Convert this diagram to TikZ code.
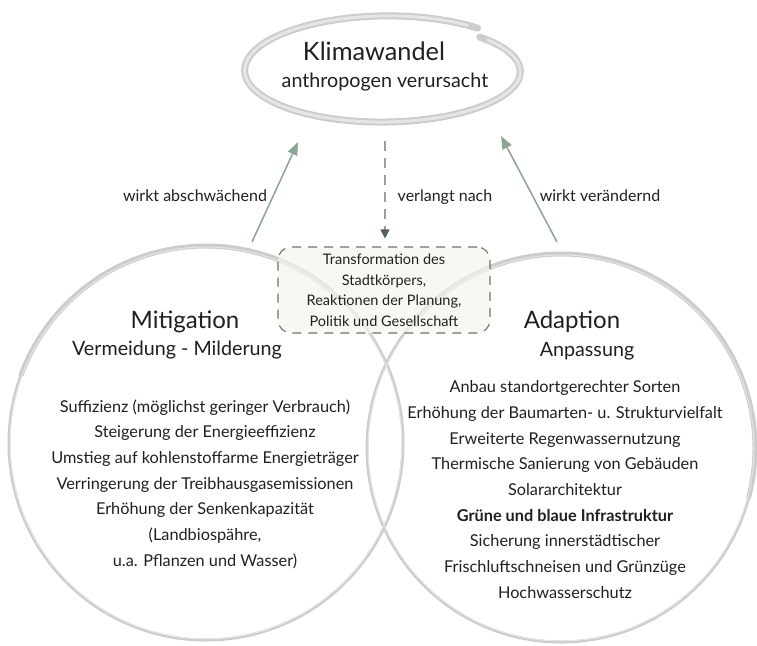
\documentclass[tikz,border=0pt]{standalone}
\usepackage{fontspec}
\setmainfont{Lato}
\usetikzlibrary{arrows.meta,shapes.geometric}
\definecolor{arrgreen}{RGB}{141,164,146}
\definecolor{darkgreen}{RGB}{78,98,82}
\definecolor{boxfill}{RGB}{243,245,236}
\definecolor{boxline}{RGB}{110,114,110}
\definecolor{txt}{RGB}{32,32,32}
\definecolor{ringout}{RGB}{203,205,202}
\definecolor{ringin}{RGB}{228,230,227}
\tikzset{
  ringnode/.style={circle, draw=ringout, line width=3pt, inner sep=0pt},
  ringhigh/.style={draw=ringin, line width=1pt},
  ringthick/.style={draw=ringout, line width=5pt},
  title/.style={font=\fontsize{24}{28}\selectfont, text=txt, anchor=base},
  subtitle/.style={font=\fontsize{19.7}{23}\selectfont, text=txt, anchor=base},
  items/.style={font=\fontsize{16.3}{25.7}\selectfont, text=txt, align=center},
  lbl/.style={font=\fontsize{16}{19}\selectfont, text=txt},
  boxnode/.style={draw=boxline, line width=1.1pt, dash pattern=on 9pt off 7pt, rounded corners=13pt,
     fill=boxfill, fill opacity=0.65, text opacity=1, minimum width=212pt, minimum height=86pt,
     font=\fontsize{14.5}{20.5}\selectfont, text=txt, align=center},
  arr/.style={draw=arrgreen, line width=1.5pt, -{Triangle[length=13pt,width=10pt]}},
  darr/.style={draw=gray!75, line width=1.1pt, dash pattern=on 10pt off 7pt,
     -{Triangle[length=9pt,width=9pt,color=darkgreen,fill=darkgreen]}}
}
\begin{document}
\begin{tikzpicture}[x=1pt,y=-1pt]
\useasboundingbox (0,0) rectangle (757,645);
\fill[white] (0,0) rectangle (757,645);

% circles
\node[ringnode, minimum size=394pt] (mit) at (206,443) {};
\node[ringnode, minimum size=388pt] (ada) at (561,448) {};
\draw[ringthick] (mit.center) ++(160:197pt) arc[start angle=160, end angle=50, radius=197pt];
\draw[ringthick] (ada.center) ++(140:194pt) arc[start angle=140, end angle=-15, radius=194pt];
\draw[ringhigh] (mit.center) circle[radius=196pt];
\draw[ringhigh] (ada.center) circle[radius=193pt];

% top loop
\node[ellipse, minimum width=282pt, minimum height=108pt, inner sep=0pt] (klima) at (385,71) {};
\draw[draw=ringout, line width=7pt, line cap=round]
  plot[domain=0:355, samples=140, smooth, variable=\t]
  ({385+(134+10*\t/355)*cos(45-\t)}, {71-(48+8*\t/355)*sin(45-\t)});
\draw[draw=ringin, line width=3pt, line cap=round]
  plot[domain=5:350, samples=140, smooth, variable=\t]
  ({385+(134+10*\t/355)*cos(45-\t)}, {71-(48+8*\t/355)*sin(45-\t)});

\node[title, font=\fontsize{25.3}{29}\selectfont] (klimaT) at (374,60) {Klimawandel};
\node[subtitle] (klimaS) at (385,87) {anthropogen verursacht};

% dashed box
\node[boxnode] (box) at (384,290) {Transformation des\\Stadtkörpers,\\Reaktionen der Planung,\\Politik und Gesellschaft};

% arrows
\coordinate (a1s) at (252,242);
\coordinate (a1e) at (298,142);
\coordinate (a2s) at (557,242);
\coordinate (a2e) at (501,136);
\coordinate (a3s) at (385,141);
\draw[arr] (a1s) -- (a1e);
\draw[arr] (a2s) -- (a2e);
\draw[darr, shorten >=8pt] (a3s) -- (a3s |- box.north);

\node[lbl] (l1) at (195,196) {wirkt abschwächend};
\node[lbl] (l2) at (445,197) {verlangt nach};
\node[lbl] (l3) at (600,196) {wirkt verändernd};

% left circle text
\node[title] (mitT) at (185,328) {Mitigation};
\node[subtitle] (mitS) at (177,355) {Vermeidung - Milderung};
\node[items] (mitI) at (205,484) {Suffizienz (möglichst geringer Verbrauch)\\
Steigerung der Energieeffizienz\\
Umstieg auf kohlenstoffarme Energieträger\\
Verringerung der Treibhausgasemissionen\\
Erhöhung der Senkenkapazität\\
(Landbiospähre,\\
u.a. Pflanzen und Wasser)};

% right circle text
\node[title] (adaT) at (572,328) {Adaption};
\node[subtitle] (adaS) at (587,356) {Anpassung};
\node[items] (adaI) at (565,489.5) {Anbau standortgerechter Sorten\\
Erhöhung der Baumarten- u. Strukturvielfalt\\
Erweiterte Regenwassernutzung\\
Thermische Sanierung von Gebäuden\\
Solararchitektur\\
\textbf{Grüne und blaue Infrastruktur}\\
Sicherung innerstädtischer\\
Frischluftschneisen und Grünzüge\\
Hochwasserschutz};
\end{tikzpicture}
\end{document}
